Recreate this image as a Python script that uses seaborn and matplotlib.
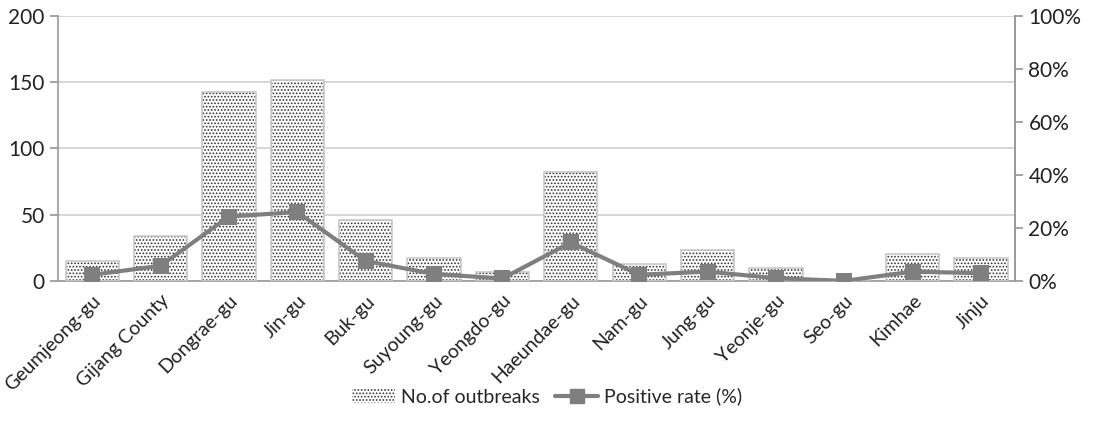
import numpy as np
import pandas as pd
import seaborn as sns
import matplotlib.pyplot as plt
from matplotlib.lines import Line2D
from matplotlib.patches import Patch

sns.set_theme(style="white")
plt.rcParams['font.family'] = ['Lato', 'DejaVu Sans']
plt.rcParams['hatch.linewidth'] = 0.8

# data
districts = ["Geumjeong-gu", "Gijang County", "Dongrae-gu", "Jin-gu", "Buk-gu",
             "Suyoung-gu", "Yeongdo-gu", "Haeundae-gu", "Nam-gu", "Jung-gu",
             "Yeonje-gu", "Seo-gu", "Kimhae", "Jinju"]
outbreaks = [15, 34, 143, 152, 46, 17, 7, 82, 13, 23, 10, 0, 20, 17]
positive_rate = [2.3, 5.7, 24.3, 26.0, 7.5, 2.6, 0.9, 14.5, 2.3, 3.5, 1.0, 0.0, 3.5, 2.9]

df = pd.DataFrame({"district": districts, "outbreaks": outbreaks, "rate": positive_rate})

fig = plt.figure(figsize=(10.94, 4.23), dpi=100)
ax = fig.add_axes([0.053, 0.336, 0.875, 0.626])

# hatch colour follows the edge colour, so dots first, light outline on top
sns.barplot(data=df, x="district", y="outbreaks", ax=ax, color="white",
            edgecolor="#333333", linewidth=0, width=0.78, hatch=".....",
            zorder=2)
sns.barplot(data=df, x="district", y="outbreaks", ax=ax, fill=False,
            edgecolor="#c8c8c8", linewidth=1.2, width=0.78, zorder=3)

ax.set_ylim(0, 200)
ax.set_yticks([0, 50, 100, 150, 200])
ax.yaxis.grid(True, color="#d0d0d0", linewidth=1.2, zorder=0)
ax.set_axisbelow(True)
ax.set_xlim(-0.5, len(districts) - 0.5)
ax.set_xlabel("")
ax.set_ylabel("")

# category boundary ticks like the original
ax.set_xticks(np.arange(len(districts)))
ax.set_xticklabels(districts, rotation=45, ha="right", rotation_mode="anchor",
                   fontsize=14, color="#222222")
ax.set_xticks(np.arange(-0.5, len(districts)), minor=True)
ax.tick_params(axis="x", which="major", length=0, pad=8)
ax.tick_params(axis="x", which="minor", length=6, color="#999999", width=1)
ax.tick_params(axis="y", length=6, color="#999999", labelsize=15, labelcolor="#222222")

ax.spines["top"].set_visible(False)
for s in ["left", "bottom", "right"]:
    ax.spines[s].set_color("#999999")
    ax.spines[s].set_linewidth(1.2)

ax2 = ax.twinx()
sns.lineplot(data=df, x="district", y="rate", ax=ax2, color="#7f7f7f",
             linewidth=3, marker="s", markersize=12, markeredgewidth=0,
             sort=False, zorder=5)
ax2.set_ylim(0, 100)
ax2.set_yticks(range(0, 101, 20))
ax2.set_yticklabels([f"{v}%" for v in range(0, 101, 20)])
ax2.set_ylabel("")
ax2.set_xlabel("")
ax2.tick_params(axis="y", length=6, color="#999999", labelsize=15, labelcolor="#222222")
for s in ["top", "left", "bottom"]:
    ax2.spines[s].set_visible(False)
ax2.spines["right"].set_color("#999999")
ax2.spines["right"].set_linewidth(1.2)

handles = [
    Patch(facecolor="white", edgecolor="#333333", linewidth=0, hatch=".....",
          label="No.of outbreaks"),
    Line2D([0], [0], color="#7f7f7f", linewidth=3, marker="s", markersize=10,
           label="Positive rate (%)"),
]
fig.legend(handles=handles, loc="lower center", bbox_to_anchor=(0.5, 0.0), ncol=2,
           frameon=False, fontsize=14, handlelength=2.2, columnspacing=0.8,
           handletextpad=0.3)

plt.savefig("out.png")
